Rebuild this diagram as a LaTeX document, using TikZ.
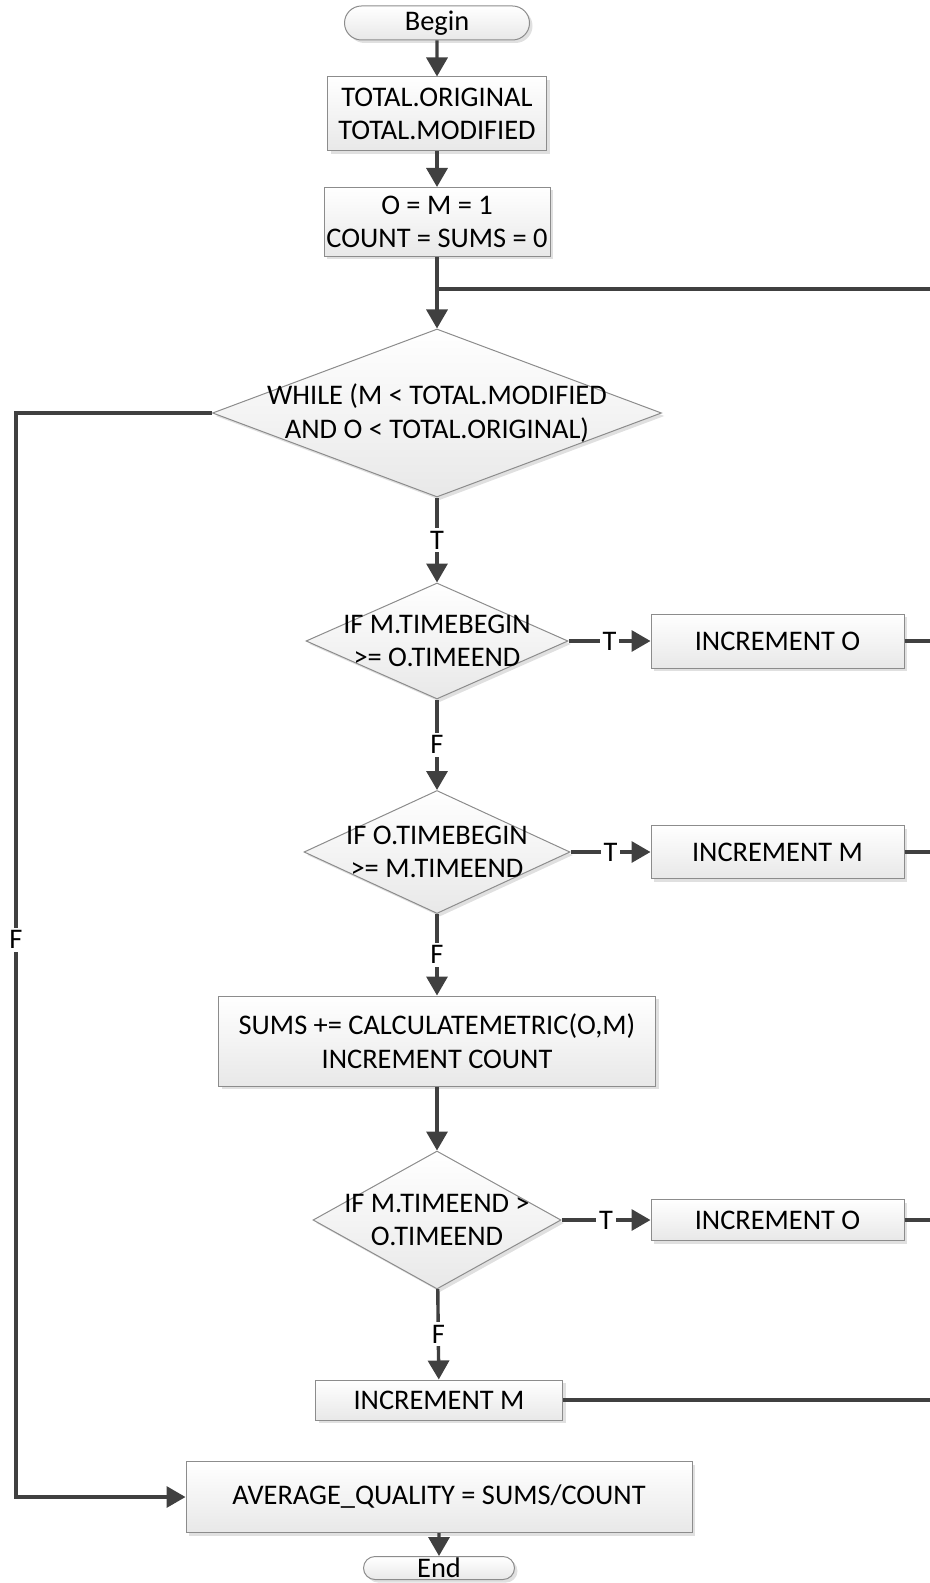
\documentclass[tikz,border=0pt]{standalone}
\usepackage{fontspec}
\setmainfont{Carlito}
\usetikzlibrary{arrows.meta, positioning, shapes.geometric, shapes.misc, shadows}
\begin{document}
\begin{tikzpicture}[x=0.5pt, y=-0.5pt,
  font=\fontsize{14.2}{16.8}\selectfont,
  sz/.style 2 args={minimum width=#1*0.5pt, minimum height=#2*0.5pt},
  bx/.style={draw=black!45, line width=0.5pt, top color=white, bottom color=black!9, inner sep=0pt, align=center,
    drop shadow={shadow xshift=1.5pt, shadow yshift=-1.5pt, fill=black!12, opacity=1}},
  pr/.style={bx, rectangle},
  tm/.style={bx, rounded rectangle},
  dd/.style={bx, diamond},
  dt/.style={align=center, inner sep=0pt},
  lb/.style={fill=white, inner sep=1.5pt},
  ln/.style={line width=1.7pt, draw=black!75},
  a/.style={ln, -{Triangle[width=10.5pt, length=9.5pt]}}]
\useasboundingbox (0,0) rectangle (930,1583);
% main column
\node[tm, sz={185}{34}] (bg) at (437,23) {Begin};
\node[pr, sz={219}{74}] (tot) at (437,114) {TOTAL.ORIGINAL\\TOTAL.MODIFIED};
\node[pr, sz={226}{69}] (ini) at (437,222) {O = M = 1\\COUNT = SUMS = 0};
\coordinate (jn) at (437,289);
\coordinate (rim) at (930,289);
\coordinate (lf) at (16,413);
\node[dd, sz={449}{168}, label={[dt]center:WHILE (M < TOTAL.MODIFIED\\AND O < TOTAL.ORIGINAL)}] (wh) at (437,413) {};
\node[dd, sz={262}{116}, label={[dt]center:IF M.TIMEBEGIN\\>= O.TIMEEND}] (c1) at (437,641) {};
\node[dd, sz={266}{123}, label={[dt]center:IF O.TIMEBEGIN\\>= M.TIMEEND}] (c2) at (437,852) {};
\node[pr, sz={437}{90}] (sm) at (437,1041) {SUMS += CALCULATEMETRIC(O,M)\\INCREMENT COUNT};
\node[dd, sz={248}{138}, label={[dt]center:IF M.TIMEEND >\\O.TIMEEND}] (c3) at (437,1220) {};
\node[pr, sz={247}{40}] (im2) at (439,1400) {INCREMENT M};
\node[pr, sz={506}{71}] (avg) at (439,1497) {AVERAGE\_QUALITY = SUMS/COUNT};
\node[tm, sz={151}{23}] (en) at (439,1568) {End};
% side boxes
\node[pr, sz={253}{54}] (io1) at (777.5,641) {INCREMENT O};
\node[pr, sz={253}{53}] (im1) at (777.5,852) {INCREMENT M};
\node[pr, sz={253}{41}] (io2) at (777.5,1220) {INCREMENT O};
% connectors
\draw[a] (bg) -- (tot);
\draw[a] (tot) -- (ini);
\draw[ln] (ini) -- (jn);
\draw[a] (jn) -- (wh);
\draw[ln] (jn) -- (rim);
\draw[a] (wh) -- node[lb]{T} (c1);
\draw[a] (c1) -- node[lb]{T} (io1);
\draw[ln] (io1) -- (io1 -| rim);
\draw[a] (c1) -- node[lb]{F} (c2);
\draw[a] (c2) -- node[lb]{T} (im1);
\draw[ln] (im1) -- (im1 -| rim);
\draw[a] (c2) -- node[lb]{F} (sm);
\draw[a] (sm) -- (c3);
\draw[a] (c3) -- node[lb]{T} (io2);
\draw[ln] (io2) -- (io2 -| rim);
\draw[a] (c3) -- node[lb]{F} (im2);
\draw[ln] (im2) -- (im2 -| rim);
\draw[a] (wh.west) -- (lf) -- node[lb, pos=.486]{F} (lf |- avg) -- (avg);
\draw[a] (avg) -- (en);
\end{tikzpicture}
\end{document}
